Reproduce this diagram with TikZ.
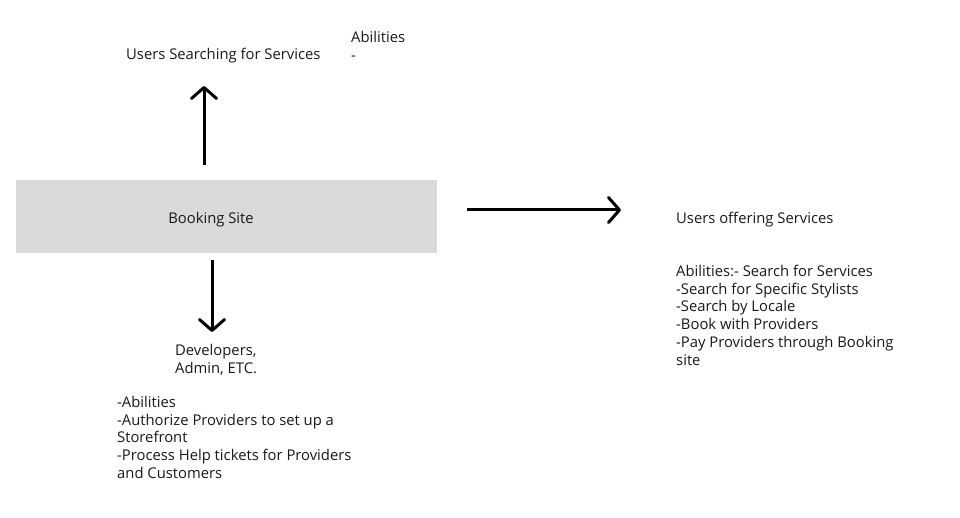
\documentclass[tikz,border=0pt]{standalone}
\usepackage{fontspec}
\setmainfont{Open Sans}
\usetikzlibrary{arrows.meta}
\begin{document}
\begin{tikzpicture}[x=1pt,y=-1pt,
  txt/.style={font=\fontsize{14.8}{17.7}\selectfont, inner sep=0pt, align=left, text=black!90},
  arr/.style={line width=3pt, -{Straight Barb[length=11pt,width=25pt,line width=3pt,round]}},
  box/.style={fill=black!15, draw=none, minimum width=421pt, minimum height=73pt, inner sep=0pt}]
\useasboundingbox[fill=white] (0,0) rectangle (960,518);
\node[box] (site) at (226.5,216.5) {};
\node[txt] (sitelbl) at (211,219.5) {Booking Site};
\node[txt, anchor=west] (search) at (126,56) {Users Searching for Services};
\node[txt, anchor=north west] (abil) at (351,31) {Abilities\\-};
\coordinate (upS) at (204,165);
\coordinate (upE) at (204,86);
\draw[arr] (upS) -- (upE);
\coordinate (dnS) at (212,260);
\coordinate (dnE) at (212,332);
\draw[arr] (dnS) -- (dnE);
\coordinate (rtS) at (467,210);
\coordinate (rtE) at (621,210);
\draw[arr] (rtS) -- (rtE);
\node[txt, anchor=north west] (dev) at (175,344) {Developers,\\Admin, ETC.};
\node[txt, anchor=north west] (devlist) at (117,396) {-Abilities\\-Authorize Providers to set up a\\Storefront\\-Process Help tickets for Providers\\and Customers};
\node[txt, anchor=west] (offer) at (676,219.5) {Users offering Services};
\node[txt, anchor=north west] (offlist) at (676,265) {Abilities:- Search for Services\\-Search for Specific Stylists\\-Search by Locale\\-Book with Providers\\-Pay Providers through Booking\\site};
\end{tikzpicture}
\end{document}
